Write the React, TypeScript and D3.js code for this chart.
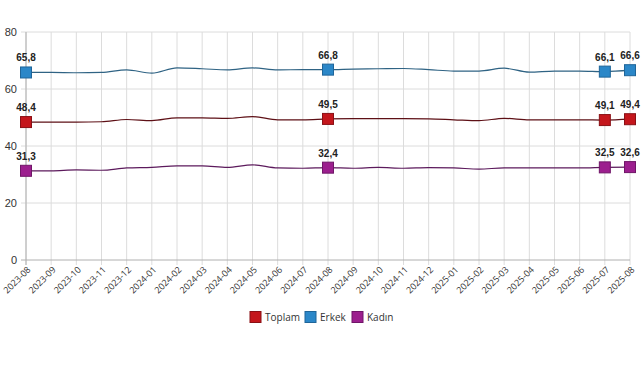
import React from "react";
import * as d3 from "d3";

const months = [
  "2023-08", "2023-09", "2023-10", "2023-11", "2023-12",
  "2024-01", "2024-02", "2024-03", "2024-04", "2024-05", "2024-06", "2024-07",
  "2024-08", "2024-09", "2024-10", "2024-11", "2024-12",
  "2025-01", "2025-02", "2025-03", "2025-04", "2025-05", "2025-06", "2025-07", "2025-08",
];

const toplam = [48.4, 48.4, 48.4, 48.5, 49.3, 48.9, 49.9, 49.9, 49.7, 50.3, 49.2, 49.2, 49.5, 49.6, 49.6, 49.6, 49.5, 49.2, 48.9, 49.7, 49.2, 49.2, 49.2, 49.1, 49.4];
const erkek = [65.8, 65.8, 65.7, 65.8, 66.7, 65.6, 67.4, 67.1, 66.7, 67.4, 66.7, 66.8, 66.8, 67.0, 67.1, 67.2, 66.8, 66.3, 66.3, 67.3, 65.9, 66.3, 66.3, 66.1, 66.6];
const kadin = [31.3, 31.3, 31.6, 31.5, 32.3, 32.5, 33.0, 33.0, 32.5, 33.4, 32.3, 32.2, 32.4, 32.2, 32.5, 32.2, 32.4, 32.3, 31.9, 32.3, 32.3, 32.3, 32.3, 32.5, 32.6];

const yTicks = [0, 20, 40, 60, 80];
const markedIdx = [0, 12, 23, 24];

const seriesNames = ["Toplam", "Erkek", "Kadın"];
const seriesData = [toplam, erkek, kadin];
const lineColors = ["#5e1016", "#2f6384", "#5c1a5c"];
const fillColors = ["#c4161c", "#2b87c8", "#9c1f8e"];
const strokeColors = ["#8a1015", "#1f6599", "#701668"];

export default function App() {
  const W = 641, H = 380;
  const left = 26, right = 630, top = 32, bottom = 260;
  const x = d3.scalePoint<string>().domain(months).range([left, right]);
  const y = d3.scaleLinear().domain([0, 80]).range([bottom, top]);
  const line = d3
    .line<number>()
    .x((_, i) => x(months[i]) as number)
    .y((d) => y(d))
    .curve(d3.curveMonotoneX);
  const fmt = (v: number) => v.toFixed(1).replace(".", ",");

  const legendX = [250, 305, 352];
  const legendY = 317;

  return (
    <svg width={W} height={H} style={{ position: "absolute", left: 0, top: 0 }}>
      <rect width={W} height={H} fill="#fff" />
      {months.map((m) => (
        <line key={m} x1={x(m)} x2={x(m)} y1={top} y2={bottom + 5} stroke="#dcdcdc" strokeWidth={1} />
      ))}
      {yTicks.map((t) => (
        <g key={t}>
          <line x1={left - 5} x2={right} y1={y(t)} y2={y(t)} stroke={t === 0 ? "#b0b0b0" : "#dcdcdc"} strokeWidth={1} />
          <text x={17} y={y(t)} dy="0.35em" textAnchor="end" fontSize={11} fontFamily="Liberation Sans, Arial, sans-serif" fill="#333">
            {t}
          </text>
        </g>
      ))}
      <line x1={left} x2={left} y1={top} y2={bottom + 5} stroke="#b0b0b0" strokeWidth={1} />
      {months.map((m) => (
        <text
          key={m}
          transform={`translate(${(x(m) as number) + 3},${bottom + 8}) rotate(-45)`}
          textAnchor="end"
          dy="0.35em"
          fontSize={9}
          fontFamily="Open Sans, sans-serif"
          fill="#333"
        >
          {m}
        </text>
      ))}
      {seriesData.map((s, k) => (
        <path key={k} d={line(s) || ""} fill="none" stroke={lineColors[k]} strokeWidth={1.2} />
      ))}
      {seriesData.map((s, k) =>
        markedIdx.map((i) => {
          const cx = x(months[i]) as number;
          const cy = y(s[i]);
          return (
            <g key={`${k}-${i}`}>
              <rect x={cx - 5.5} y={cy - 5.5} width={11} height={11} fill={fillColors[k]} stroke={strokeColors[k]} strokeWidth={1} />
              <text x={cx} y={cy - 11} textAnchor="middle" fontSize={10} fontWeight="bold" fontFamily="Liberation Sans, Arial, sans-serif" fill="#222">
                {fmt(s[i])}
              </text>
            </g>
          );
        })
      )}
      {seriesNames.map((n, k) => (
        <g key={n}>
          <rect x={legendX[k]} y={legendY - 5.5} width={11} height={11} fill={fillColors[k]} stroke={strokeColors[k]} strokeWidth={1} />
          <text x={legendX[k] + 15} y={legendY} dy="0.35em" fontSize={10} fontFamily="Open Sans, sans-serif" fill="#333">
            {n}
          </text>
        </g>
      ))}
    </svg>
  );
}
